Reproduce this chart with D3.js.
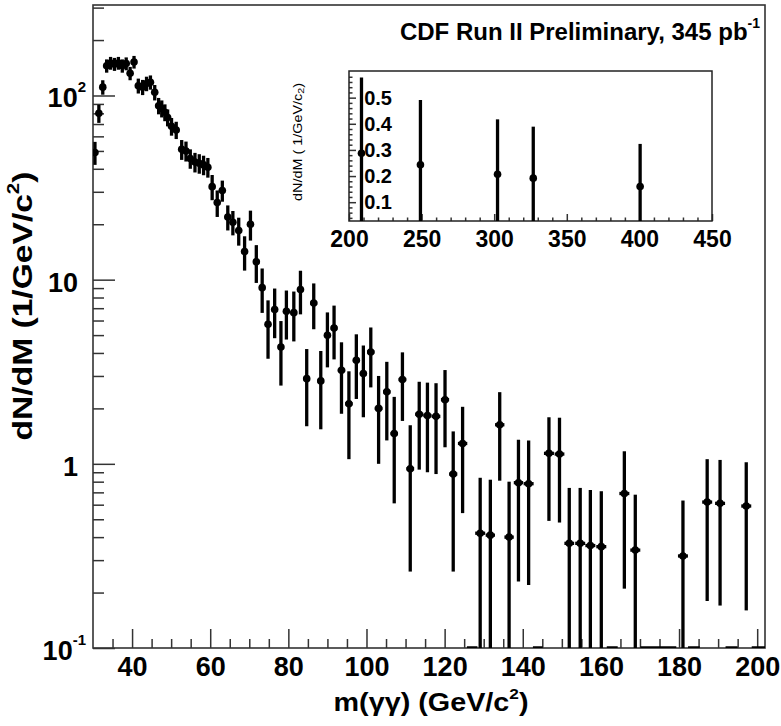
<!DOCTYPE html>
<html>
<head>
<meta charset="utf-8">
<script src="https://cdn.jsdelivr.net/npm/d3@7"></script>
<style>
  body { margin: 0; background: #fff; }
  text { font-family: "Liberation Sans", Arial, Helvetica, sans-serif; fill: #000; }
  .axis line { stroke: #333; stroke-width: 1.5; }
  .axis text { font-weight: bold; }
</style>
</head>
<body>
<script>
// diphoton mass spectrum, bin centres in GeV/c^2
var massPoints = [30.5, 31.5, 32.5, 33.5, 34.5, 35.5, 36.5, 37.5, 38.5, 39.5, 40.5,
  41.6, 42.7, 43.7, 44.7, 45.8, 46.8, 47.6, 48.4, 49.1, 50.1, 51.3, 52.7, 53.8, 54.9,
  56.1, 57.2, 58.3, 59.4, 60.5, 61.8, 63.1, 64.5, 65.8, 67.3, 68.8, 70.3, 71.8, 73.3,
  74.8, 76.5, 78.1, 79.5, 81.4, 83.1, 84.7, 86.5, 88.3, 90.0, 91.7, 93.6, 95.5, 97.4,
  99.2, 101.1, 103.1, 105.2, 107.1, 109.2, 111.2, 113.5, 115.6, 117.8, 120.1, 122.2,
  124.6, 129.1, 131.7, 134.1, 136.5, 138.9, 141.5, 146.7, 149.4, 151.9, 154.7, 157.3,
  160.1, 166.0, 168.8, 181.0, 187.2, 190.5, 197.2];
var dndmValues = [49, 80, 111, 145, 150, 148, 150, 145, 149, 132, 152,
  113, 111, 116, 118, 104, 88, 85, 81, 76, 68, 65, 51, 50, 45.5,
  43.5, 42.8, 42, 40.8, 32, 26.2, 30.5, 21.9, 20.5, 18.5, 14.2, 20, 12.5, 9.05,
  5.72, 6.88, 4.31, 6.73, 6.62, 8.83, 2.90, 7.46, 2.82, 4.99, 5.46, 3.22, 2.12, 3.65,
  3.09, 4.05, 2.0, 2.46, 1.46, 2.87, 0.94, 1.86, 1.83, 1.81, 2.23, 0.88,
  1.29, 0.42, 0.41, 1.63, 0.40, 0.79, 0.78, 1.14, 1.13, 0.37, 0.37, 0.36,
  0.355, 0.69, 0.34, 0.316, 0.62, 0.61, 0.59];
var dndmErrors = [7, 9, 10, 12, 12, 12, 12, 12, 12, 11, 12,
  10.5, 10.5, 10.5, 10.5, 10, 9, 9, 8.5, 8, 7.5, 7, 6.3, 6.2, 5.5,
  5.3, 5.2, 5.1, 5, 5, 4.3, 4, 3.4, 3.1, 3.2, 3.0, 3.7, 2.9, 2.45,
  2.0, 2.07, 1.65, 2.0, 2.0, 2.35, 1.3, 2.08, 1.28, 1.65, 1.77, 1.35, 1.06, 1.4,
  1.3, 1.45, 1.0, 1.12, 0.85, 1.16, 0.68, 0.93, 0.93, 0.93, 1.0, 0.62,
  0.75, 0.42, 0.41, 0.82, 0.40, 0.56, 0.56, 0.65, 0.65, 0.37, 0.37, 0.36,
  0.355, 0.48, 0.34, 0.316, 0.44, 0.44, 0.43];
// empty bins (low edge, high edge)
var emptyBins = [[125.7, 128.4], [142.6, 145.1], [161.5, 164.3], [170.1, 179.3],
  [182.3, 185.3], [191.9, 195.0], [198.6, 202]];

// inset: high mass tail
var insetMass = [208.6, 249.2, 302.3, 326.9, 400.5];
var insetValues = [0.287, 0.243, 0.207, 0.192, 0.160];
var insetErrors = [0.29, 0.248, 0.21, 0.197, 0.163];

var xTickValues = [40, 60, 80, 100, 120, 140, 160, 180, 200];
var yDecades = [0.1, 1, 10, 100];
var yDecadeBase = ["10", "1", "10", "10"];
var yDecadeExp = ["-1", "", "", "2"];
var insetXTicks = [200, 250, 300, 350, 400, 450];
var insetYTicks = [0.1, 0.2, 0.3, 0.4, 0.5];

var svg = d3.select("body").append("svg")
  .attr("width", 781)
  .attr("height", 726);

svg.append("rect").attr("width", 781).attr("height", 726).attr("fill", "#fff");

var x = d3.scaleLinear().domain([30, 202]).range([93, 765]);
var y = d3.scaleLog().domain([0.1, 310]).range([648, 5]);

var plotLeft = x.range()[0], plotRight = x.range()[1];
var plotTop = y.range()[1], plotBottom = y.range()[0];

svg.append("clipPath").attr("id", "plotclip")
  .append("rect")
  .attr("x", plotLeft).attr("y", plotTop)
  .attr("width", plotRight - plotLeft).attr("height", plotBottom - plotTop);

// x axis ticks
var xMinor = d3.range(35, 202, 5).filter(function (v) { return v % 20 !== 0; });

svg.append("g").attr("class", "axis")
  .attr("transform", "translate(0," + plotBottom + ")")
  .call(d3.axisBottom(x).tickValues(xMinor).tickSize(-9).tickFormat(""))
  .call(function (g) { g.select(".domain").remove(); });

svg.append("g").attr("class", "axis")
  .attr("transform", "translate(0," + plotBottom + ")")
  .call(d3.axisBottom(x).tickValues(xTickValues).tickSize(-19).tickPadding(9).tickFormat(d3.format("d")))
  .call(function (g) { g.select(".domain").remove(); })
  .selectAll("text")
  .attr("font-size", 27)
  .attr("font-family", "Liberation Sans, Arial, sans-serif");

// y axis ticks
var yMinor = [];
yDecades.forEach(function (d) {
  for (var k = 2; k <= 9; k++) {
    if (d * k <= y.domain()[1]) yMinor.push(d * k);
  }
});

svg.append("g").attr("class", "axis")
  .attr("transform", "translate(" + plotLeft + ",0)")
  .call(d3.axisLeft(y).tickValues(yMinor).tickSize(-11).tickFormat(""))
  .call(function (g) { g.select(".domain").remove(); });

svg.append("g").attr("class", "axis")
  .attr("transform", "translate(" + plotLeft + ",0)")
  .call(d3.axisLeft(y).tickValues(yDecades).tickSize(-22).tickFormat(""))
  .call(function (g) { g.select(".domain").remove(); });

var yLabels = svg.append("g").selectAll(".ylab")
  .data(yDecades).enter()
  .append("text")
  .attr("class", "ylab")
  .attr("text-anchor", "end")
  .attr("font-weight", "bold")
  .attr("font-size", 27)
  .attr("x", function (d, i) { return yDecadeExp[i] ? 86 : 78; })
  .attr("y", function (d) { return y(d) + 12; });

yLabels.append("tspan").text(function (d, i) { return yDecadeBase[i]; });
yLabels.append("tspan")
  .attr("font-size", 15)
  .attr("dy", -15)
  .text(function (d, i) { return yDecadeExp[i]; });

// frame
svg.append("rect")
  .attr("x", plotLeft).attr("y", plotTop)
  .attr("width", plotRight - plotLeft).attr("height", plotBottom - plotTop)
  .attr("fill", "none")
  .attr("stroke", "#333")
  .attr("stroke-width", 1.6);

// data points
var points = massPoints.map(function (m, i) {
  return { m: m, v: dndmValues[i], e: dndmErrors[i] };
});

var dataG = svg.append("g").attr("clip-path", "url(#plotclip)");

var halfWidth = function (i) {
  var gaps = [];
  if (i > 0) gaps.push(x(massPoints[i]) - x(massPoints[i - 1]));
  if (i < massPoints.length - 1) gaps.push(x(massPoints[i + 1]) - x(massPoints[i]));
  return Math.min(5, d3.min(gaps) / 2);
};

dataG.selectAll(".ebar")
  .data(points).enter()
  .append("line")
  .attr("class", "ebar")
  .attr("x1", function (d) { return x(d.m); })
  .attr("x2", function (d) { return x(d.m); })
  .attr("y1", function (d) { return y(d.v + d.e); })
  .attr("y2", function (d) { return y(Math.max(d.v - d.e, y.domain()[0])); })
  .attr("stroke", "#000")
  .attr("stroke-width", 3.3);

dataG.selectAll(".xbar")
  .data(points).enter()
  .append("line")
  .attr("class", "xbar")
  .attr("x1", function (d, i) { return x(d.m) - halfWidth(i); })
  .attr("x2", function (d, i) { return x(d.m) + halfWidth(i); })
  .attr("y1", function (d) { return y(d.v); })
  .attr("y2", function (d) { return y(d.v); })
  .attr("stroke", "#000")
  .attr("stroke-width", 3.3);

dataG.selectAll(".dot")
  .data(points).enter()
  .append("circle")
  .attr("class", "dot")
  .attr("cx", function (d) { return x(d.m); })
  .attr("cy", function (d) { return y(d.v); })
  .attr("r", 3.8)
  .attr("fill", "#000");

// empty bins sit on the lower edge
dataG.selectAll(".empty")
  .data(emptyBins).enter()
  .append("line")
  .attr("class", "empty")
  .attr("x1", function (d) { return x(d[0]); })
  .attr("x2", function (d) { return x(d[1]); })
  .attr("y1", y(y.domain()[0]))
  .attr("y2", y(y.domain()[0]))
  .attr("stroke", "#000")
  .attr("stroke-width", 3.5);

// axis titles
svg.append("text")
  .attr("transform", "translate(32,306) rotate(-90) scale(1.2,1)")
  .attr("text-anchor", "middle")
  .attr("font-weight", "bold")
  .attr("font-size", 28)
  .call(function (t) {
    t.append("tspan").text("dN/dM (1/GeV/c");
    t.append("tspan").attr("font-size", 17).attr("dy", -13).text("2");
    t.append("tspan").attr("dy", 13).text(")");
  });

svg.append("text")
  .attr("transform", "translate(431,711) scale(1.15,1)")
  .attr("text-anchor", "middle")
  .attr("font-weight", "bold")
  .attr("font-size", 25)
  .call(function (t) {
    t.append("tspan").text("m(γγ) (GeV/c");
    t.append("tspan").attr("font-size", 15).attr("dy", -12).text("2");
    t.append("tspan").attr("dy", 12).text(")");
  });

// title
svg.append("text")
  .attr("x", 760).attr("y", 40)
  .attr("text-anchor", "end")
  .attr("font-weight", "bold")
  .attr("font-size", 24)
  .call(function (t) {
    t.append("tspan").text("CDF Run II Preliminary, 345 pb");
    t.append("tspan").attr("font-size", 14).attr("dy", -12).text("-1");
  });

// inset
var x2 = d3.scaleLinear().domain([200, 450]).range([349, 712]);
var y2 = d3.scaleLinear().domain([0.028, 0.602]).range([221, 71]);

var inset = svg.append("g").attr("class", "inset");

inset.append("clipPath").attr("id", "insetclip")
  .append("rect")
  .attr("x", x2.range()[0]).attr("y", y2.range()[1])
  .attr("width", x2.range()[1] - x2.range()[0])
  .attr("height", y2.range()[0] - y2.range()[1]);

var insetXMinor = d3.range(210, 450, 10).filter(function (v) { return v % 50 !== 0; });
var insetYMinor = d3.range(0.04, 0.6, 0.02).filter(function (v) {
  return Math.abs(v * 10 - Math.round(v * 10)) > 0.01;
});

inset.append("g").attr("class", "axis")
  .attr("transform", "translate(0," + y2.range()[0] + ")")
  .call(d3.axisBottom(x2).tickValues(insetXMinor).tickSize(-3.5).tickFormat(""))
  .call(function (g) { g.select(".domain").remove(); });

inset.append("g").attr("class", "axis")
  .attr("transform", "translate(0," + y2.range()[0] + ")")
  .call(d3.axisBottom(x2).tickValues(insetXTicks).tickSize(-7).tickPadding(10).tickFormat(d3.format("d")))
  .call(function (g) { g.select(".domain").remove(); })
  .selectAll("text")
  .attr("font-size", 23)
  .attr("font-family", "Liberation Sans, Arial, sans-serif");

inset.append("g").attr("class", "axis")
  .attr("transform", "translate(" + x2.range()[0] + ",0)")
  .call(d3.axisLeft(y2).tickValues(insetYMinor).tickSize(-3.5).tickFormat(""))
  .call(function (g) { g.select(".domain").remove(); });

inset.append("g").attr("class", "axis")
  .attr("transform", "translate(" + x2.range()[0] + ",0)")
  .call(d3.axisLeft(y2).tickValues(insetYTicks).tickSize(-7).tickFormat(""))
  .call(function (g) { g.select(".domain").remove(); });

inset.selectAll(".iylab")
  .data(insetYTicks).enter()
  .append("text")
  .attr("class", "iylab")
  .attr("text-anchor", "end")
  .attr("font-weight", "bold")
  .attr("font-size", 20)
  .attr("x", 392)
  .attr("y", function (d) { return y2(d) + 7; })
  .text(function (d) { return d3.format(".1f")(d); });

inset.append("rect")
  .attr("x", x2.range()[0]).attr("y", y2.range()[1])
  .attr("width", x2.range()[1] - x2.range()[0])
  .attr("height", y2.range()[0] - y2.range()[1])
  .attr("fill", "none")
  .attr("stroke", "#222")
  .attr("stroke-width", 1.5);

var insetPts = insetMass.map(function (m, i) {
  return { m: m, v: insetValues[i], e: insetErrors[i] };
});

var insetData = inset.append("g").attr("clip-path", "url(#insetclip)");

insetData.selectAll(".ibar")
  .data(insetPts).enter()
  .append("line")
  .attr("x1", function (d) { return x2(d.m); })
  .attr("x2", function (d) { return x2(d.m); })
  .attr("y1", function (d) { return y2(d.v + d.e); })
  .attr("y2", function (d) { return y2(Math.max(d.v - d.e, y2.domain()[0])); })
  .attr("stroke", "#000")
  .attr("stroke-width", 3.3);

insetData.selectAll(".idot")
  .data(insetPts).enter()
  .append("circle")
  .attr("cx", function (d) { return x2(d.m); })
  .attr("cy", function (d) { return y2(d.v); })
  .attr("r", 3.8)
  .attr("fill", "#000");

svg.append("text")
  .attr("transform", "translate(302,142) rotate(-90) scale(1.2,1)")
  .attr("text-anchor", "middle")
  .attr("font-size", 12)
  .call(function (t) {
    t.append("tspan").text("dN/dM ( 1/GeV/c");
    t.append("tspan").attr("font-size", 9).attr("dy", 2).text("2");
    t.append("tspan").attr("dy", -2).text(")");
  });
</script>
</body>
</html>
